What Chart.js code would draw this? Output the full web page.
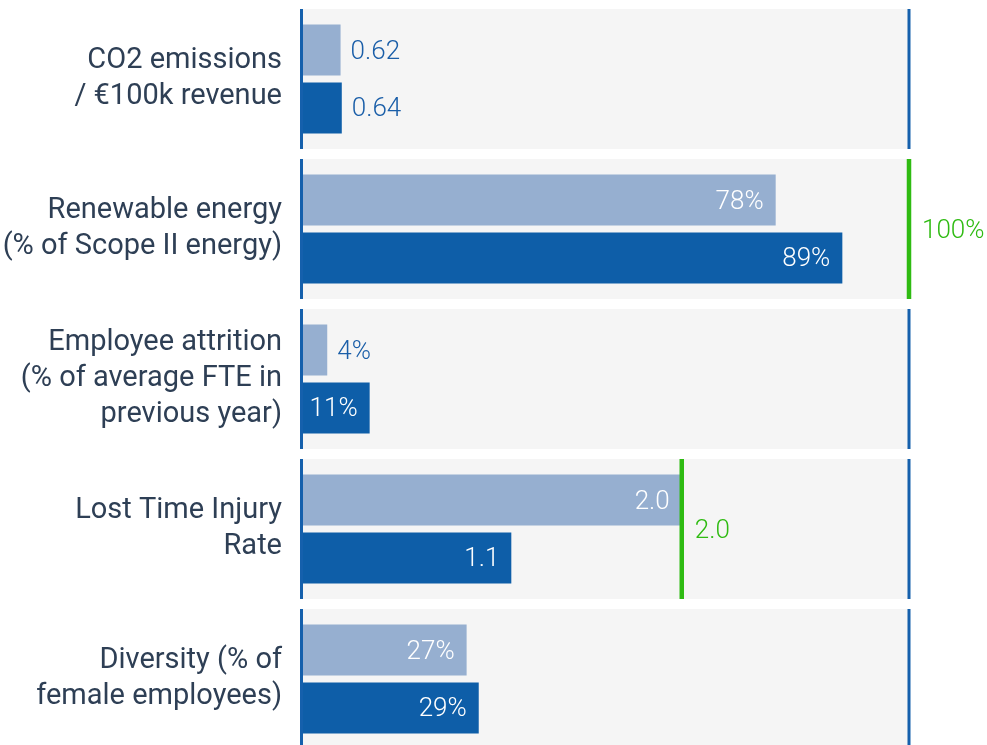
<!DOCTYPE html>
<html>
<head>
<meta charset="utf-8">
<script src="https://cdn.jsdelivr.net/npm/chart.js@4"></script>
<style>
  html, body { margin: 0; padding: 0; background: #ffffff; overflow: hidden; }
  #wrap { position: relative; width: 987px; height: 760px; }
</style>
</head>
<body>
<div id="wrap"><canvas id="kpi" width="987" height="760"></canvas></div>
<script>
// KPI rows, each on its own scale (scaleMax), with optional target line
const categories = [
  ['CO2 emissions', '/ €100k revenue'],
  ['Renewable energy', '(% of Scope II energy)'],
  ['Employee attrition', '(% of average FTE in', 'previous year)'],
  ['Lost Time Injury', 'Rate'],
  ['Diversity (% of', 'female employees)']
];
const priorYear   = [0.62, 78, 4, 2.0, 27];
const currentYear = [0.64, 89, 11, 1.1, 29];
const scaleMax    = [10, 100, 100, 3.2, 100];
const targets     = [null, 100, null, 2.0, null];
const decimals    = [2, 0, 0, 1, 0];
const units       = ['', '%', '%', '', '%'];

const COLORS = {
  panel: '#f5f5f5',
  light: '#96afd0',
  dark: '#0e5ea8',
  axis: '#1560ac',
  target: '#2fbb12',
  valueText: '#1a5ea8',
  label: '#2e3f55'
};
const FONT = 'Roboto, "Noto Sans", sans-serif';
const VALUE_FONT = '300 26px ' + FONT;

// share of each row's own scale, 0..100
const toShare = (arr) => arr.map((v, i) => v / scaleMax[i] * 100);
const fmt = (v, i) => v.toFixed(decimals[i]) + units[i];
const rawValues = [priorYear, currentYear];

const panelsPlugin = {
  id: 'panels',
  beforeDatasetsDraw(chart) {
    const { ctx, chartArea, scales } = chart;
    ctx.save();
    ctx.fillStyle = COLORS.panel;
    categories.forEach((_, i) => {
      const yc = scales.y.getPixelForValue(i);
      ctx.fillRect(chartArea.left, yc - 70, chartArea.right - chartArea.left, 140);
    });
    ctx.restore();
  },
  afterDatasetsDraw(chart) {
    const { ctx, chartArea, scales } = chart;
    ctx.save();
    categories.forEach((_, i) => {
      const yc = scales.y.getPixelForValue(i);
      ctx.fillStyle = COLORS.axis;
      ctx.fillRect(chartArea.left - 3, yc - 70, 3, 140);
      ctx.fillRect(chartArea.right - 1.5, yc - 70, 3, 140);
      if (targets[i] !== null) {
        const tx = scales.x.getPixelForValue(targets[i] / scaleMax[i] * 100);
        ctx.fillStyle = COLORS.target;
        ctx.fillRect(tx - 2.25, yc - 70, 4.5, 140);
        ctx.font = VALUE_FONT;
        ctx.textAlign = 'left';
        ctx.textBaseline = 'middle';
        ctx.fillText(fmt(targets[i], i), tx + 13, yc + 2);
      }
    });

    // value labels on bars
    ctx.font = VALUE_FONT;
    ctx.textBaseline = 'middle';
    chart.data.datasets.forEach((ds, d) => {
      const meta = chart.getDatasetMeta(d);
      meta.data.forEach((bar, i) => {
        const text = fmt(rawValues[d][i], i);
        const tw = ctx.measureText(text).width;
        const w = bar.x - bar.base;
        if (w >= tw + 14) {
          ctx.fillStyle = '#ffffff';
          ctx.textAlign = 'right';
          ctx.fillText(text, bar.x - 12, bar.y + 2);
        } else {
          ctx.fillStyle = COLORS.valueText;
          ctx.textAlign = 'left';
          ctx.fillText(text, bar.x + 10, bar.y + 2);
        }
      });
    });
    ctx.restore();
  }
};

new Chart(document.getElementById('kpi'), {
  type: 'bar',
  data: {
    labels: categories,
    datasets: [
      { label: 'Prior year', data: toShare(priorYear), backgroundColor: COLORS.light,
        categoryPercentage: 0.773, barPercentage: 0.88 },
      { label: 'Current year', data: toShare(currentYear), backgroundColor: COLORS.dark,
        categoryPercentage: 0.773, barPercentage: 0.88 }
    ]
  },
  options: {
    indexAxis: 'y',
    responsive: false,
    animation: false,
    devicePixelRatio: 1,
    layout: { padding: { top: 4, bottom: 6, left: 0, right: 78 } },
    plugins: { legend: { display: false }, tooltip: { enabled: false } },
    scales: {
      x: { display: false, min: 0, max: 100 },
      y: {
        grid: { display: false, drawTicks: false },
        border: { display: false },
        afterFit(scale) {
          scale.width = 303;
          scale.paddingTop = 0;
          scale.paddingBottom = 0;
        },
        ticks: {
          padding: 21,
          color: COLORS.label,
          font: { family: FONT, size: 29, lineHeight: 1.24 }
        }
      }
    }
  },
  plugins: [panelsPlugin]
});
</script>
</body>
</html>
